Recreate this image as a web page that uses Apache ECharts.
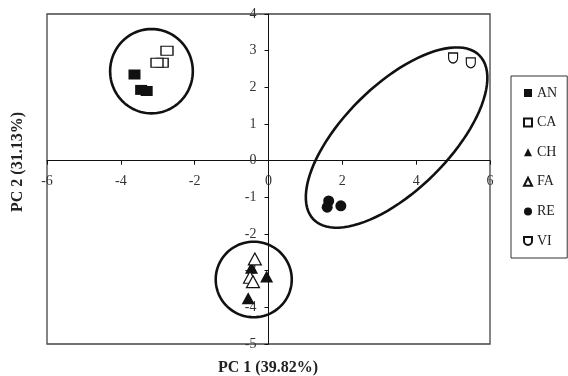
<!DOCTYPE html>
<html>
<head>
<meta charset="utf-8">
<script src="https://cdn.jsdelivr.net/npm/echarts@6/dist/echarts.min.js"></script>
<style>
  html, body { margin: 0; padding: 0; background: #fff; }
  #chart { width: 568px; height: 376px; }
</style>
</head>
<body>
<div id="chart"></div>
<script>
  // PCA scores
  var groups = ['AN', 'CA', 'CH', 'FA', 'RE', 'VI']
  var anPts = [[-3.63, 2.35], [-3.45, 1.93], [-3.3, 1.9]]
  var caPts = [[-2.75, 3.0], [-2.88, 2.67], [-3.02, 2.67]]
  var chPts = [[-0.46, -2.92], [-0.05, -3.16], [-0.55, -3.75]]
  var faPts = [[-0.37, -2.68], [-0.5, -3.18], [-0.42, -3.3]]
  var rePts = [[1.63, -1.1], [1.59, -1.27], [1.96, -1.23]]
  var viPts = [[5.0, 2.8], [5.48, 2.67]]
  // cluster ellipses: cx, cy, semi-axis a, semi-axis b, angle (deg)
  var ellipses = [[-3.17, 2.44, 1.12, 1.15, 0], [3.47, 0.63, 3.17, 1.43, 45], [-0.4, -3.24, 1.03, 1.03, 0]]
  var xTicks = { min: -6, max: 6, step: 2 }
  var yTicks = { min: -5, max: 4, step: 1 }

  var serif = 'Liberation Serif'
  var dShape = 'path://M0,0 L10,0 L10,5 A5,5 0 0 1 0,5 Z'
  var gridW = 443
  var gridH = 330

  function pointSeries(name, data, symbol, size, filled) {
    return {
      name: name,
      type: 'scatter',
      data: data,
      symbol: symbol,
      symbolSize: size,
      itemStyle: {
        color: filled ? '#111' : '#fff',
        borderColor: '#111',
        borderWidth: filled ? 0 : 1.2,
        opacity: 1
      },
      z: 3
    }
  }

  var chart = echarts.init(document.getElementById('chart'))
  var option = {
    animation: false,
    grid: {
      left: 47,
      top: 14,
      width: gridW,
      height: gridH,
      show: true,
      borderColor: '#444',
      borderWidth: 1.3
    },
    legend: {
      data: groups,
      orient: 'vertical',
      left: 511,
      top: 76,
      padding: [10, 10, 10, 12],
      itemGap: 15.6,
      itemWidth: 8,
      itemHeight: 8,
      itemTextGap: 6,
      borderColor: '#333',
      borderWidth: 1,
      textStyle: { fontFamily: serif, fontSize: 14, color: '#222' }
    },
    xAxis: {
      type: 'value',
      min: xTicks.min,
      max: xTicks.max,
      interval: xTicks.step,
      position: 'bottom',
      // put the axis on y = 0
      offset: -gridH * (0 - yTicks.min) / (yTicks.max - yTicks.min),
      axisLine: { onZero: false, lineStyle: { color: '#111', width: 1 } },
      axisTick: { show: true, length: 4, lineStyle: { color: '#111' } },
      axisLabel: { fontFamily: serif, fontSize: 14, color: '#333', margin: 14 },
      splitLine: { show: false }
    },
    yAxis: {
      type: 'value',
      min: yTicks.min,
      max: yTicks.max,
      interval: yTicks.step,
      position: 'left',
      // put the axis on x = 0
      offset: -gridW * (0 - xTicks.min) / (xTicks.max - xTicks.min),
      axisLine: { onZero: false, lineStyle: { color: '#111', width: 1 } },
      axisTick: { show: true, length: 4, lineStyle: { color: '#111' } },
      axisLabel: { fontFamily: serif, fontSize: 14, color: '#333', margin: 12 },
      splitLine: { show: false }
    },
    graphic: [
      {
        type: 'text',
        x: 268,
        y: 368,
        style: { text: 'PC 1 (39.82%)', font: 'bold 16px "Liberation Serif"', fill: '#222', align: 'center', verticalAlign: 'middle' }
      },
      {
        type: 'text',
        x: 18,
        y: 162,
        rotation: Math.PI / 2,
        style: { text: 'PC 2 (31.13%)', font: 'bold 16px "Liberation Serif"', fill: '#222', align: 'center', verticalAlign: 'middle' }
      }
    ],
    series: [
      pointSeries('AN', anPts, 'rect', [12, 10], true),
      pointSeries('CA', caPts, 'rect', [12, 9], false),
      pointSeries('CH', chPts, 'triangle', [13, 12], true),
      pointSeries('FA', faPts, 'triangle', [13, 12], false),
      pointSeries('RE', rePts, 'circle', 11, true),
      pointSeries('VI', viPts, dShape, [9, 10], false),
      {
        name: 'clusters',
        type: 'custom',
        data: ellipses,
        encode: { x: 0, y: 1 },
        silent: true,
        z: 2,
        renderItem: function (params, api) {
          var cx = api.value(0), cy = api.value(1)
          var a = api.value(2), b = api.value(3)
          var t = api.value(4) * Math.PI / 180
          var pts = []
          for (var i = 0; i < 96; i++) {
            var u = i / 96 * 2 * Math.PI
            var dx = a * Math.cos(u), dy = b * Math.sin(u)
            pts.push(api.coord([cx + dx * Math.cos(t) - dy * Math.sin(t), cy + dx * Math.sin(t) + dy * Math.cos(t)]))
          }
          return {
            type: 'polygon',
            shape: { points: pts },
            style: { fill: 'none', stroke: '#111', lineWidth: 2.6 }
          }
        }
      }
    ]
  }
  chart.setOption(option)
</script>
</body>
</html>
